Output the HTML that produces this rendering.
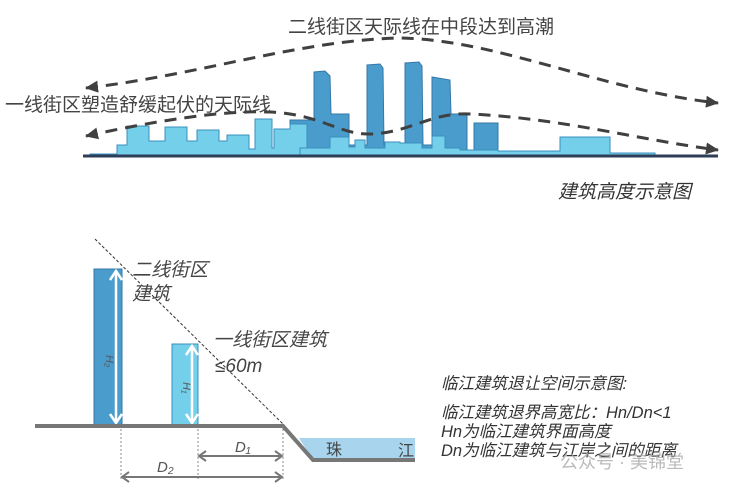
<!DOCTYPE html>
<html><head><meta charset="utf-8"><style>
html,body{margin:0;padding:0;background:#fff;}
svg{display:block;}
text{font-family:"Liberation Sans","Noto Sans CJK SC",sans-serif;}
</style></head><body>
<svg width="740" height="491" viewBox="0 0 740 491" xmlns="http://www.w3.org/2000/svg">
<defs>
<marker id="ahs" markerWidth="14" markerHeight="12" refX="12" refY="6" orient="auto-start-reverse" markerUnits="userSpaceOnUse"><path d="M0,0 L13,6 L0,12 z" fill="#404040"/></marker>
</defs>

<text x="421" y="33" font-size="19" fill="#444" text-anchor="middle">二线街区天际线在中段达到高潮</text>
<text x="5" y="111" font-size="19" fill="#444">一线街区塑造舒缓起伏的天际线</text>

<g fill="#4a9ccc" stroke="#3577a8" stroke-width="1">
<path d="M290,155 L290,120 L314,120 L314,72 L325,71 L330,76 L331,114 L349,114 L349,145 L367,145 L367,65 L380,64 L383,68 L384,145 L405,145 L405,63 L419,62 L422,66 L423,145 L432,145 L432,77 L450,80 L451,114 L467,114 L467,150 L474,150 L474,123 L498,123 L498,155 Z"/>
</g>
<g fill="#74cfea" stroke="#3b8fbd" stroke-width="1">
<path d="M90,155 L90,154 L117,154 L117,145 L127,145 L127,126 L149,126 L149,141 L165,141 L165,127 L187,127 L187,141 L197,141 L197,130 L219,130 L219,141 L227,141 L227,135 L249,135 L249,149 L255,149 L255,119 L272,119 L272,148 L274,148 L274,129 L290,129 L290,124 L307,124 L307,155 Z"/>
<path d="M300,155 L300,148 L330,148 L330,137 L349,137 L349,147 L355,147 L355,140 L365,140 L365,148 L385,148 L385,142 L400,142 L400,143 L422,143 L422,148 L432,148 L432,136 L445,136 L445,148 L460,148 L460,150 L498,150 L498,151 L560,151 L560,137 L610,137 L610,153 L655,153 L655,155 Z"/>
</g>
<line x1="83" y1="156" x2="718" y2="156" stroke="#2e3e58" stroke-width="3"/>

<path d="M86,88 C200,75 300,40 400,38 C500,40 600,90 718,103" fill="none" stroke="#404040" stroke-width="3" stroke-dasharray="12,8" marker-start="url(#ahs)" marker-end="url(#ahs)"/>
<path d="M86,136 C150,122 220,110 270,112 C320,114 340,135 370,134 C410,133 430,112 470,114 C560,118 640,140 718,150" fill="none" stroke="#404040" stroke-width="3" stroke-dasharray="12,8" marker-start="url(#ahs)" marker-end="url(#ahs)"/>

<text x="558" y="198" font-size="19" fill="#333" font-style="italic">建筑高度示意图</text>

<path d="M299,438 L415,438 L415,460 L313,460 Z" fill="#a8d4ee"/>
<rect x="94" y="269" width="28" height="156" fill="#4a9ccc" stroke="#3577a8"/>
<rect x="172" y="344" width="26" height="81" fill="#74cfea" stroke="#3b8fbd"/>
<g stroke="#fff" stroke-width="2.5" fill="none">
<line x1="116" y1="272" x2="116" y2="423"/>
<path d="M110,280 L116,271 L122,280 M110,414 L116,423 L122,414"/>
<line x1="192" y1="347" x2="192" y2="423"/>
<path d="M186,355 L192,346 L198,355 M186,414 L192,423 L198,414"/>
</g>
<text transform="translate(106,355) rotate(90)" font-size="11" fill="#555" font-style="italic">H₂</text>
<text transform="translate(183,382) rotate(90)" font-size="11" fill="#555" font-style="italic">H₁</text>
<path d="M35,426 L283,426 L313,460 L415,460" fill="none" stroke="#777" stroke-width="4"/>
<line x1="95" y1="239" x2="283" y2="424" stroke="#333" stroke-width="1" stroke-dasharray="3,2"/>

<g stroke="#888" stroke-width="1" stroke-dasharray="2,2">
<line x1="121" y1="429" x2="121" y2="480"/><line x1="198" y1="429" x2="198" y2="480"/><line x1="283" y1="429" x2="283" y2="480"/>
</g>
<g stroke="#777" stroke-width="2" fill="none">
<line x1="199" y1="456" x2="282" y2="456"/>
<path d="M206,451 L199,456 L206,461 M275,451 L282,456 L275,461"/>
<line x1="122" y1="477" x2="282" y2="477"/>
<path d="M129,472 L122,477 L129,482 M275,472 L282,477 L275,482"/>
</g>
<text x="235" y="452" font-size="15" fill="#555" font-style="italic">D₁</text>
<text x="157" y="472" font-size="15" fill="#555" font-style="italic">D₂</text>
<text x="326" y="455" font-size="16" fill="#444">珠</text>
<text x="398" y="456" font-size="16" fill="#444">江</text>

<g font-size="19" fill="#444" font-style="italic">
<text x="132" y="276">二线街区</text>
<text x="132" y="300">建筑</text>
<text x="213" y="346">一线街区建筑</text>
<text x="215" y="372">≤60m</text>
</g>

<g font-size="16.5" fill="#333" font-style="italic">
<text x="441" y="389">临江建筑退让空间示意图:</text>
<text x="441" y="418">临江建筑退界高宽比：Hn/Dn&lt;1</text>
<text x="441" y="437">Hn为临江建筑界面高度</text>
<text x="441" y="456">Dn为临江建筑与江岸之间的距离</text>
</g>
<text x="560" y="468" font-size="18" fill="#aaa" opacity="0.8">公众号 · 美锦堂</text>
</svg>
</body></html>
